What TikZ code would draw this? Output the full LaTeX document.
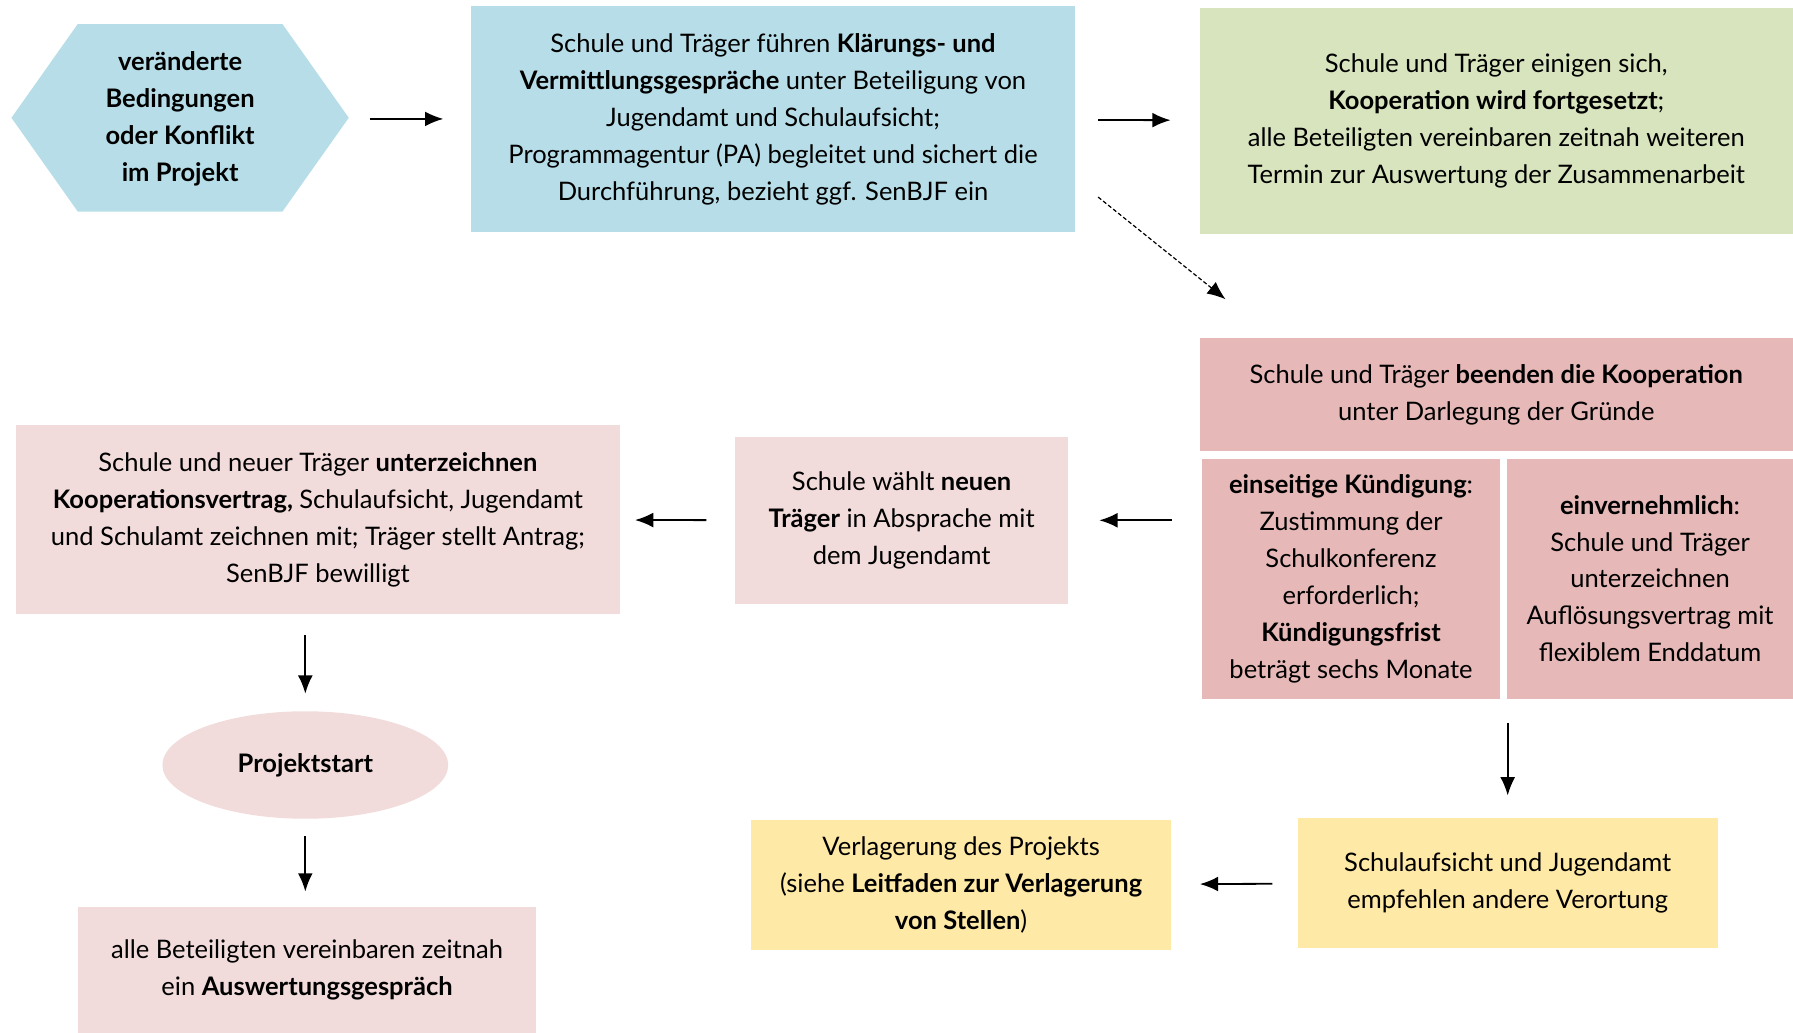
\documentclass[tikz,border=0pt]{standalone}
\usepackage{fontspec}
\setmainfont{Lato}
\usetikzlibrary{arrows.meta,shapes.geometric}
\definecolor{hellblau}{HTML}{B7DEE8}
\definecolor{hellgruen}{HTML}{D7E4BD}
\definecolor{altrosa}{HTML}{E6B9B8}
\definecolor{zartrosa}{HTML}{F2DCDB}
\definecolor{hellgelb}{HTML}{FFE9A6}
\begin{document}
\begin{tikzpicture}[x=0.02cm,y=-0.02cm,
    font=\fontsize{12.7}{18.4}\selectfont,
    box/.style={rectangle,align=center,inner sep=0pt},
    arr/.style={-{Latex[length=3.2mm,width=2.6mm]},line width=0.9pt},
    dash arr/.style={-{Latex[length=3.2mm,width=2.6mm]},line width=0.6pt,dash pattern=on 2pt off 1.2pt}]
  \useasboundingbox (0,0) rectangle (1568,903);
  \fill[hellblau] (10,103) -- (68,21) -- (247,21) -- (305,103) -- (247,185) -- (68,185) -- cycle;
  \node[box,minimum width=5.9cm,minimum height=3.28cm] (hex) at (157.5,104)
    {\textbf{veränderte}\\\textbf{Bedingungen}\\\textbf{oder Konflikt}\\\textbf{im Projekt}};
  \node[box,fill=hellblau,minimum width=10.56cm,minimum height=3.96cm] (klaer) at (676,104)
    {Schule und Träger führen \textbf{Klärungs- und}\\\textbf{Vermittlungsgespräche} unter Beteiligung von\\Jugendamt und Schulaufsicht;\\Programmagentur (PA) begleitet und sichert die\\Durchführung, bezieht ggf. SenBJF ein};
  \node[box,fill=hellgruen,minimum width=10.38cm,minimum height=3.96cm] (gruen) at (1308.5,106)
    {Schule und Träger einigen sich,\\\textbf{Kooperation wird fortgesetzt};\\alle Beteiligten vereinbaren zeitnah weiteren\\Termin zur Auswertung der Zusammenarbeit};
  \node[box,fill=altrosa,minimum width=10.38cm,minimum height=1.96cm] (beenden) at (1308.5,345)
    {Schule und Träger \textbf{beenden die Kooperation}\\unter Darlegung der Gründe};
  \node[box,fill=altrosa,minimum width=5.22cm,minimum height=4.2cm] (einseitig) at (1181.5,506)
    {\textbf{einseitige Kündigung}:\\Zustimmung der\\Schulkonferenz\\erforderlich;\\\textbf{Kündigungsfrist}\\beträgt sechs Monate};
  \node[box,fill=altrosa,minimum width=5cm,minimum height=4.2cm] (einvern) at (1443,506)
    {\textbf{einvernehmlich}:\\Schule und Träger\\unterzeichnen\\Auflösungsvertrag mit\\flexiblem Enddatum};
  \node[box,fill=zartrosa,minimum width=5.82cm,minimum height=2.92cm] (waehlt) at (788.5,455)
    {Schule wählt \textbf{neuen}\\\textbf{Träger} in Absprache mit\\dem Jugendamt};
  \node[box,fill=zartrosa,minimum width=10.56cm,minimum height=3.3cm] (neuer) at (278,454.5)
    {Schule und neuer Träger \textbf{unterzeichnen}\\\textbf{Kooperationsvertrag,} Schulaufsicht, Jugendamt\\und Schulamt zeichnen mit; Träger stellt Antrag;\\SenBJF bewilligt};
  \node[ellipse,fill=zartrosa,inner sep=0pt,minimum width=5cm,minimum height=1.88cm] (start) at (267,669)
    {\textbf{Projektstart}};
  \node[box,fill=zartrosa,minimum width=8.02cm,minimum height=2.2cm] (auswertung) at (268.5,848)
    {alle Beteiligten vereinbaren zeitnah\\ein \textbf{Auswertungsgespräch}};
  \node[box,fill=hellgelb,minimum width=7.34cm,minimum height=2.28cm] (empfehlen) at (1318.5,772)
    {Schulaufsicht und Jugendamt\\empfehlen andere Verortung};
  \node[box,fill=hellgelb,minimum width=7.34cm,minimum height=2.28cm] (verlagerung) at (840.5,774)
    {Verlagerung des Projekts\\(siehe \textbf{Leitfaden zur Verlagerung}\\\textbf{von Stellen})};
  \begin{scope}[arr]
    \draw[shorten <=0.36cm,shorten >=0.48cm] (hex) -- (klaer);
    \draw[shorten <=0.4cm,shorten >=0.5cm] (klaer) -- (gruen);
    \draw[dash arr] ([shift={(20,-31)}]klaer.south east) -- ([shift={(23,-34)}]beenden.north west);
    \draw[shorten <=0.52cm,shorten >=0.54cm] (waehlt.east -| einseitig.west) -- (waehlt.east);
    \draw[shorten <=0.5cm,shorten >=0.26cm] (waehlt) -- (neuer);
    \draw[shorten <=0.36cm,shorten >=0.3cm] (neuer.south -| start) -- (start);
    \draw[shorten <=0.3cm,shorten >=0.26cm] (start) -- (auswertung.north -| start);
    \draw[shorten <=0.42cm,shorten >=0.38cm] (empfehlen.north |- einseitig.south) -- (empfehlen.north);
    \draw[shorten <=0.44cm,shorten >=0.5cm] (empfehlen) -- (verlagerung);
  \end{scope}
\end{tikzpicture}
\end{document}
